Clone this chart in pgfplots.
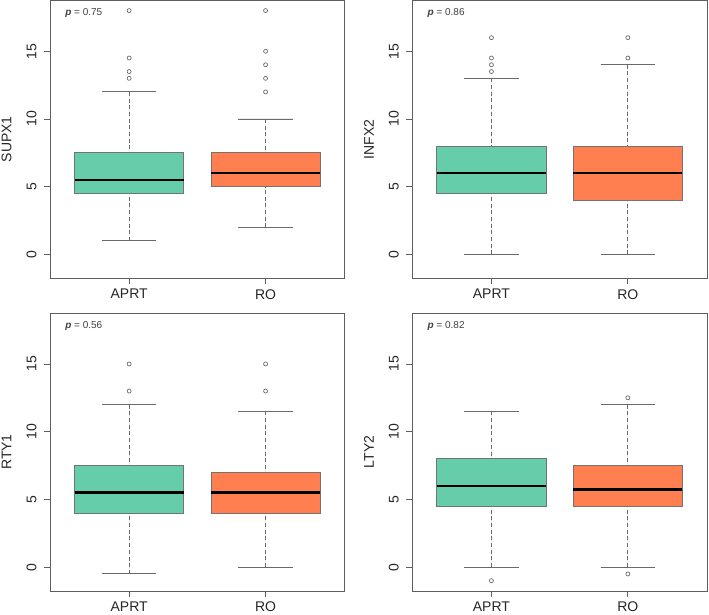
\documentclass[border=0pt]{standalone}
\usepackage{fontspec}
\setmainfont{Liberation Sans}
\usepackage{pgfplots}
\pgfplotsset{compat=1.18}
\usepgfplotslibrary{statistics}
\definecolor{aprt}{HTML}{66CDAA}
\definecolor{ro}{HTML}{FF7F50}
\definecolor{framec}{HTML}{5E5E5E}
\definecolor{wh}{HTML}{6A6A6A}

\tikzset{ptext/.style={anchor=base west, font=\fontsize{10}{12}\selectfont, text=black!75}}
\pgfplotsset{
  /pgfplots/boxplot/draw direction=y,
  /pgfplots/boxplot/every median/.style={black, line width=2.6pt, solid},
  /pgfplots/boxplot/draw/lower whisker/.code={%
    \draw[wh, line width=0.8pt, dash pattern=on 4pt off 2.7pt]
      (boxplot box cs:\pgfplotsboxplotvalue{lower whisker},0.5) -- (boxplot box cs:\pgfplotsboxplotvalue{lower quartile},0.5);
    \draw[wh, line width=0.9pt, solid]
      (boxplot box cs:\pgfplotsboxplotvalue{lower whisker},0.25) -- (boxplot box cs:\pgfplotsboxplotvalue{lower whisker},0.75);
  },
  /pgfplots/boxplot/draw/upper whisker/.code={%
    \draw[wh, line width=0.8pt, dash pattern=on 4pt off 2.7pt]
      (boxplot box cs:\pgfplotsboxplotvalue{upper whisker},0.5) -- (boxplot box cs:\pgfplotsboxplotvalue{upper quartile},0.5);
    \draw[wh, line width=0.9pt, solid]
      (boxplot box cs:\pgfplotsboxplotvalue{upper whisker},0.25) -- (boxplot box cs:\pgfplotsboxplotvalue{upper whisker},0.75);
  },
  panel/.style={
    scale only axis, width=294.7pt, height=278pt,
    xmin=0.42, xmax=2.58, ymin=-1.76, ymax=18.76,
    axis line style={framec, line width=0.9pt},
    xtick={1,2}, xticklabels={APRT,RO},
    ytick={0,5,10,15},
    yticklabels={\rotatebox{90}{0},\rotatebox{90}{5},\rotatebox{90}{10},\rotatebox{90}{15}},
    xtick pos=bottom, ytick pos=left,
    tick align=outside, major tick length=6pt,
    tick style={framec, line width=0.8pt},
    tick label style={font=\fontsize{14}{16}\selectfont, text=black!85},
    yticklabel style={xshift=-4pt},
    xticklabel style={yshift=-1.5pt},
    ylabel style={font=\fontsize{14}{16}\selectfont, text=black!85, at={(axis description cs:-0.147,0.5)}, anchor=center},
  },
  bx/.style={draw=black!55, line width=0.8pt, mark=o, mark size=2pt, mark options={solid, draw=wh, line width=0.7pt}},
}

\begin{document}
\begin{tikzpicture}
\useasboundingbox (0pt,0pt) rectangle (709pt,614pt);

% Panel 1: SUPX1
\begin{axis}[panel, at={(50pt,335.7pt)}, anchor=south west, ylabel={SUPX1}]
\addplot[bx, fill=aprt, boxplot prepared={draw direction=y, draw position=1, lower whisker=1, lower quartile=4.5, median=5.5, upper quartile=7.5, upper whisker=12}]
  coordinates {(0,13) (0,13.5) (0,14.5) (0,18)};
\addplot[bx, fill=ro, boxplot prepared={draw direction=y, draw position=2, lower whisker=2, lower quartile=5, median=6, upper quartile=7.5, upper whisker=10}]
  coordinates {(0,12) (0,13) (0,14) (0,15) (0,18)};
\node[ptext] at (rel axis cs:0.04,0.944) {\textbf{\textit{p}} = 0.75};
\end{axis}

% Panel 2: INFX2
\begin{axis}[panel, at={(412.3pt,335.7pt)}, anchor=south west, ylabel={INFX2}]
\addplot[bx, fill=aprt, boxplot prepared={draw direction=y, draw position=1, lower whisker=0, lower quartile=4.5, median=6, upper quartile=8, upper whisker=13}]
  coordinates {(0,13.5) (0,14) (0,14.5) (0,16)};
\addplot[bx, fill=ro, boxplot prepared={draw direction=y, draw position=2, lower whisker=0, lower quartile=4, median=6, upper quartile=8, upper whisker=14}]
  coordinates {(0,14.5) (0,16)};
\node[ptext] at (rel axis cs:0.04,0.944) {\textbf{\textit{p}} = 0.86};
\end{axis}

% Panel 3: RTY1
\begin{axis}[panel, at={(50pt,23pt)}, anchor=south west, ylabel={RTY1}]
\addplot[bx, fill=aprt, boxplot prepared={draw direction=y, draw position=1, lower whisker=-0.5, lower quartile=4, median=5.5, upper quartile=7.5, upper whisker=12}]
  coordinates {(0,13) (0,15)};
\addplot[bx, fill=ro, boxplot prepared={draw direction=y, draw position=2, lower whisker=0, lower quartile=4, median=5.5, upper quartile=7, upper whisker=11.5}]
  coordinates {(0,13) (0,15)};
\node[ptext] at (rel axis cs:0.04,0.944) {\textbf{\textit{p}} = 0.56};
\end{axis}

% Panel 4: LTY2
\begin{axis}[panel, at={(412.3pt,23pt)}, anchor=south west, ylabel={LTY2}]
\addplot[bx, fill=aprt, boxplot prepared={draw direction=y, draw position=1, lower whisker=0, lower quartile=4.5, median=6, upper quartile=8, upper whisker=11.5}]
  coordinates {(0,-1)};
\addplot[bx, fill=ro, boxplot prepared={draw direction=y, draw position=2, lower whisker=0, lower quartile=4.5, median=5.75, upper quartile=7.5, upper whisker=12}]
  coordinates {(0,-0.5) (0,12.5)};
\node[ptext] at (rel axis cs:0.04,0.944) {\textbf{\textit{p}} = 0.82};
\end{axis}
\end{tikzpicture}
\end{document}
